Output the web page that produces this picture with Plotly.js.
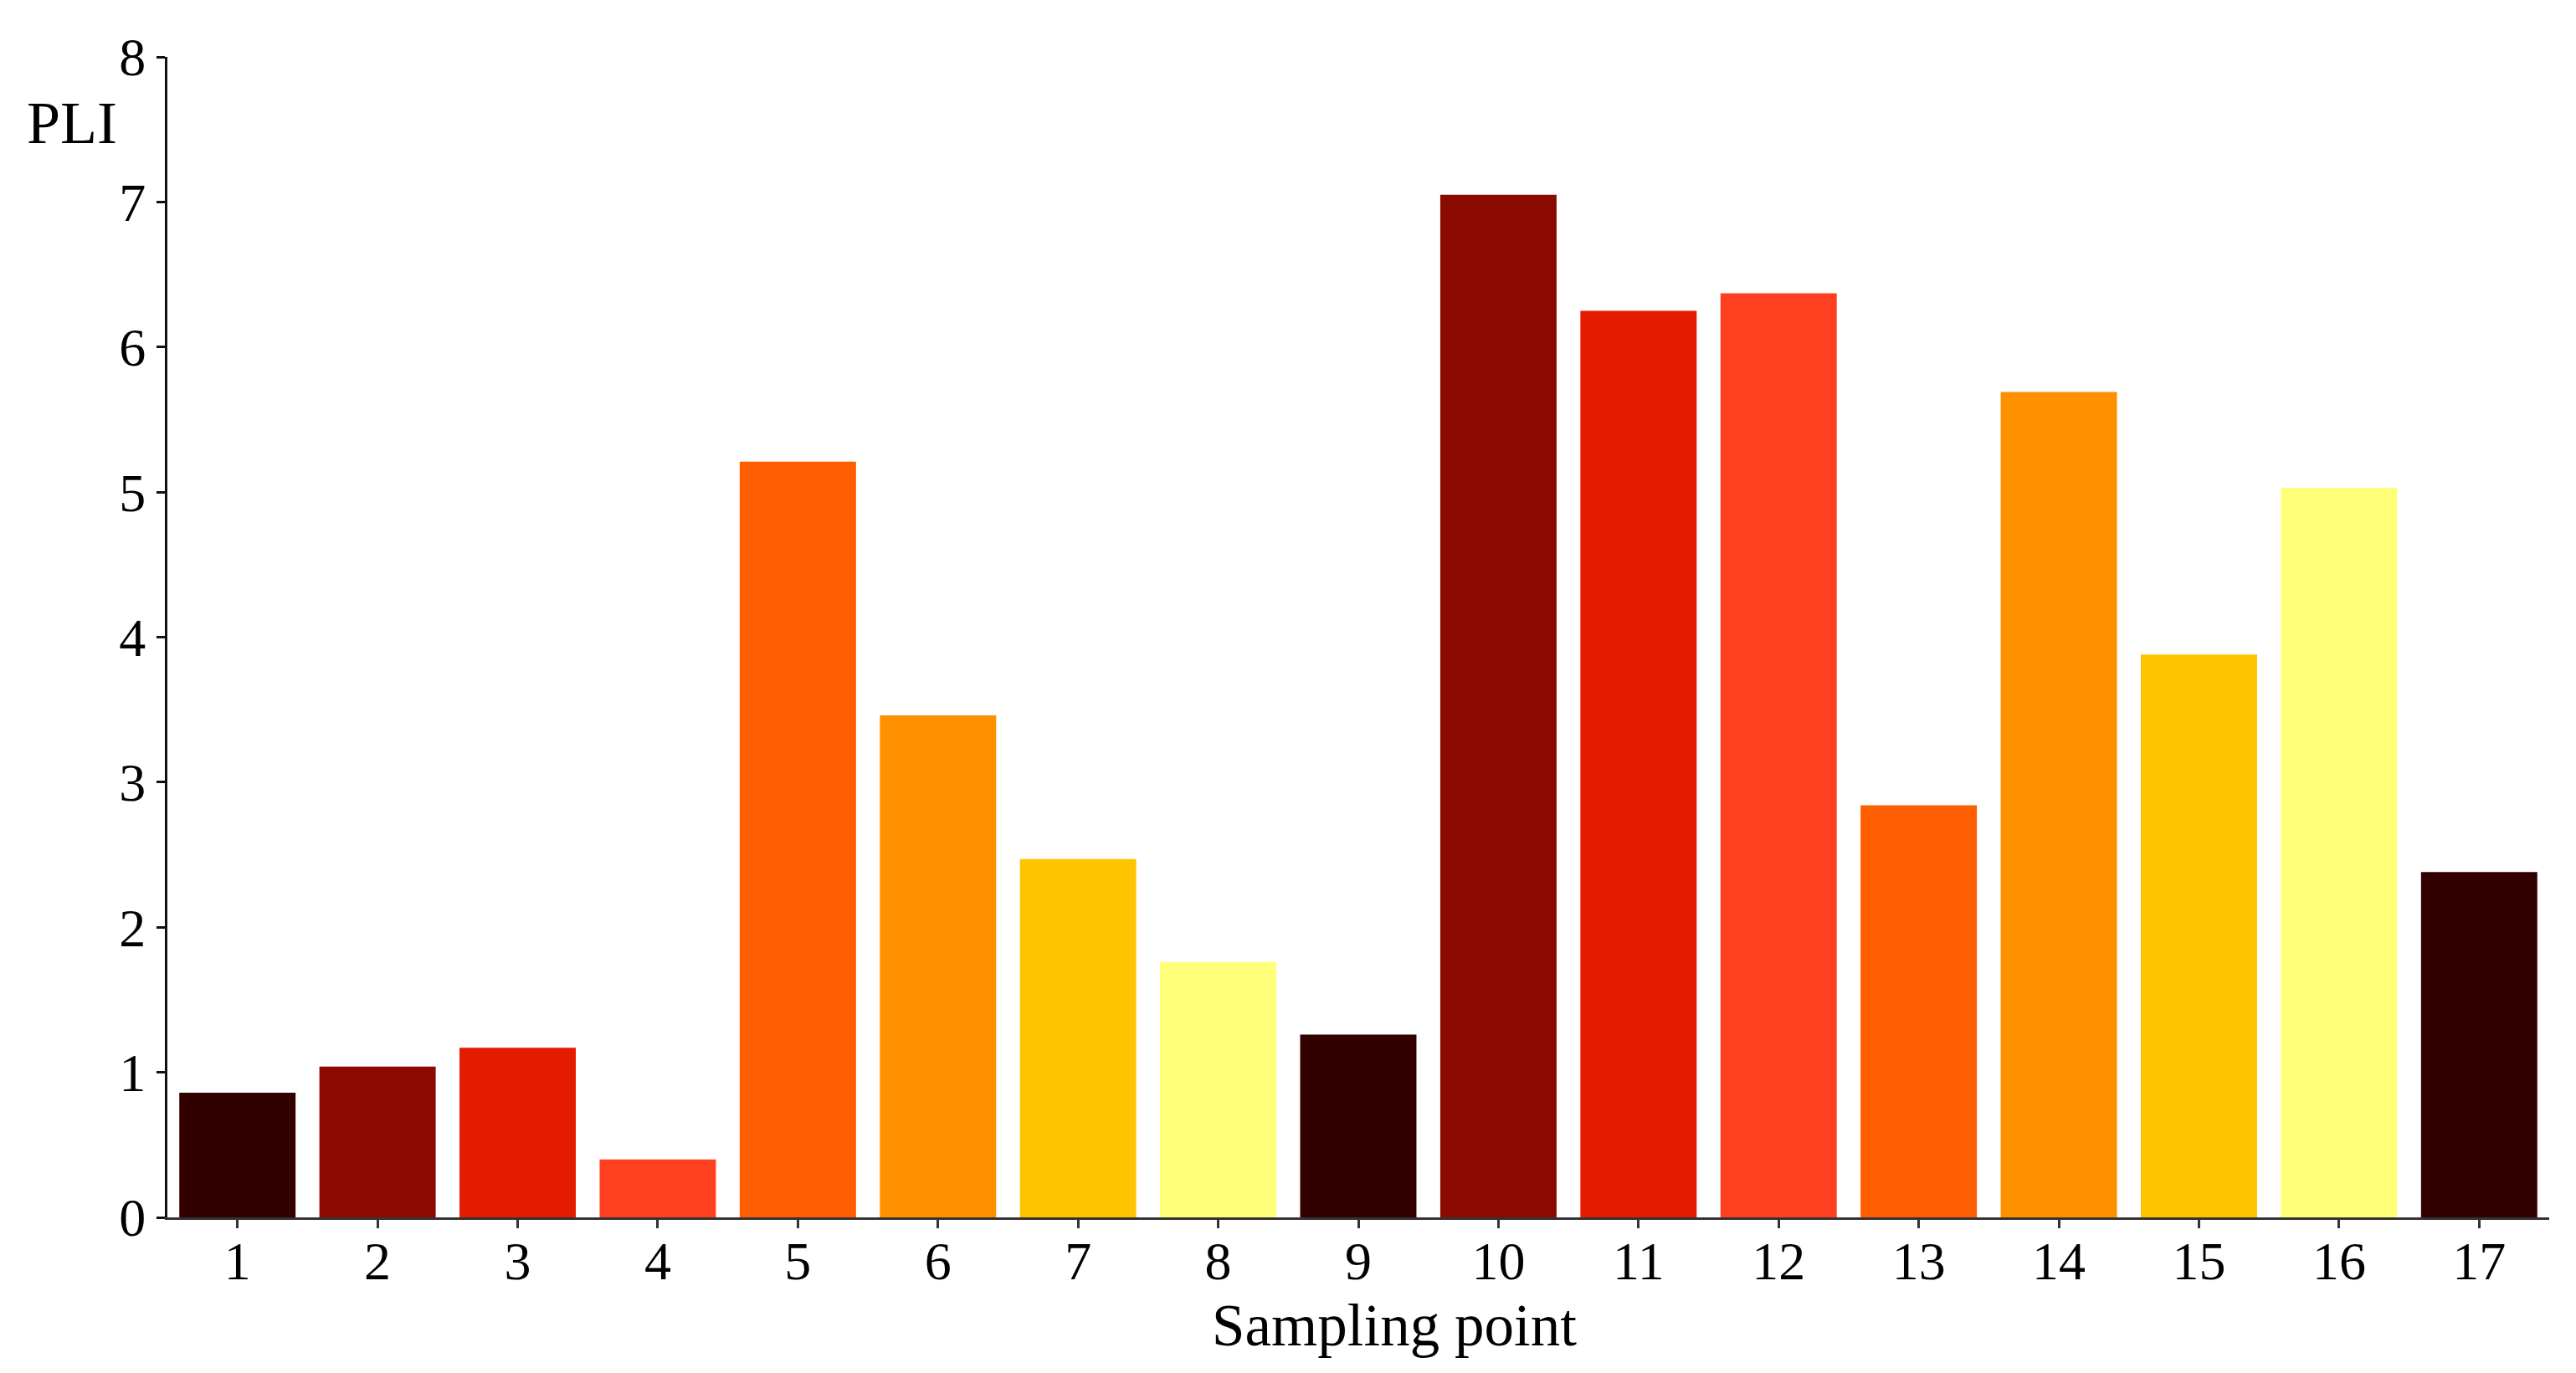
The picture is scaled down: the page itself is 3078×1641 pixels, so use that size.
<!DOCTYPE html>
<html>
<head>
<meta charset="utf-8">
<script src="https://cdn.plot.ly/plotly-3.0.1.min.js"></script>
<style>
  html, body { margin: 0; padding: 0; background: #fff; }
  #chart { width: 3078px; height: 1641px; }
</style>
</head>
<body>
<div id="chart"></div>
<script>
// PLI per sampling point
const samplingPoints = ['1', '2', '3', '4', '5', '6', '7', '8', '9', '10', '11', '12', '13', '14', '15', '16', '17'];
const pliValues = [0.86, 1.04, 1.17, 0.40, 5.21, 3.46, 2.47, 1.76, 1.26, 7.05, 6.25, 6.37, 2.84, 5.69, 3.88, 5.03, 2.38];
const barColors = ['#330000', '#8b0a00', '#e51b00', '#ff4020', '#ff5e00', '#ff9000', '#ffc400', '#ffff7a',
                   '#330000', '#8b0a00', '#e51b00', '#ff4020', '#ff5e00', '#ff9000', '#ffc400', '#ffff7a', '#330000'];

const serif = '"Liberation Serif", "Times New Roman", serif';

const trace = {
    x: samplingPoints,
    y: pliValues,
    type: 'bar',
    marker: { color: barColors, line: { width: 0 } },
    hoverinfo: 'x+y'
};

const layout = {
    width: 3078,
    height: 1641,
    margin: { l: 200, r: 32, t: 68, b: 186 },
    paper_bgcolor: '#fff',
    plot_bgcolor: '#fff',
    bargap: 0.17,
    showlegend: false,
    font: { family: serif, color: '#000', size: 64 },
    xaxis: {
        type: 'category',
        range: [-0.5, 16.5],
        showline: true,
        linecolor: '#333',
        linewidth: 3,
        ticks: 'outside',
        ticklen: 10,
        tickwidth: 3,
        tickcolor: '#333',
        ticklabelstandoff: -16,
        showgrid: false,
        zeroline: false,
        tickfont: { family: serif, size: 64, color: '#000' }
    },
    yaxis: {
        range: [0, 8],
        dtick: 1,
        showline: true,
        linecolor: '#111',
        linewidth: 3,
        ticks: 'outside',
        ticklen: 10,
        tickwidth: 3,
        tickcolor: '#111',
        showgrid: false,
        zeroline: false,
        tickfont: { family: serif, size: 64, color: '#000' }
    },
    annotations: [
        {
            text: 'PLI', xref: 'paper', yref: 'paper',
            x: -0.040, y: 0.943, xanchor: 'center', yanchor: 'middle',
            showarrow: false, font: { family: serif, size: 72, color: '#000' }
        },
        {
            text: 'Sampling point', xref: 'paper', yref: 'paper',
            x: 0.515, y: -0.093, xanchor: 'center', yanchor: 'middle',
            showarrow: false, font: { family: serif, size: 71, color: '#000' }
        }
    ]
};

Plotly.newPlot('chart', [trace], layout, { displayModeBar: false, staticPlot: true });
</script>
</body>
</html>
